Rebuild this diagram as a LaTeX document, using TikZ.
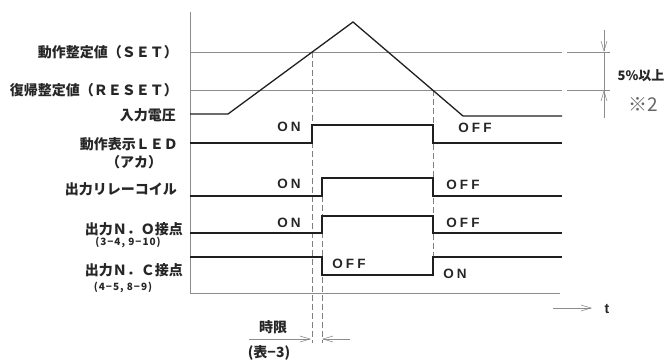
\documentclass[tikz,border=0pt]{standalone}
\usepackage{fontspec}
\usetikzlibrary{arrows.meta}
\newfontfamily\jp{Noto Sans CJK JP}
\newfontfamily\jpsp[LetterSpace=10]{Noto Sans CJK JP}
\newfontfamily\lat[LetterSpace=24]{Liberation Sans}
\newfontfamily\latn{Liberation Sans}
\begin{document}
\begin{tikzpicture}[x=1pt,y=-1pt,
  grid/.style={draw=black!45, line width=0.7pt},
  sig/.style={draw=black!88, line width=1.5pt},
  vdash/.style={draw=black!50, line width=0.7pt, dash pattern=on 6pt off 3pt},
  lbl/.style={font=\jp\bfseries\fontsize{14}{15}\selectfont, text=black!85, anchor=east, inner sep=0pt},
  sublbl/.style={font=\jpsp\bfseries\fontsize{10}{10}\selectfont, text=black!85, inner sep=0pt},
  st/.style={font=\lat\bfseries\fontsize{13.5}{13.5}\selectfont, text=black!85, inner sep=0pt},
  barb/.style={-{Straight Barb[length=10pt,width=6pt]}, draw=black!45, line width=0.6pt}]
\useasboundingbox (0,0) rectangle (667,362);
% axes
\coordinate (ax0) at (190,12);
\coordinate (ax1) at (190,293);
\coordinate (ax2) at (560,293);
\draw[grid] (ax0) -- (ax1) -- (ax2);
% SET / RESET levels
\coordinate (set0) at (190,52);  \coordinate (set1) at (562,52);
\coordinate (set2) at (567,52);  \coordinate (set3) at (610,52);
\coordinate (rst0) at (190,90);  \coordinate (rst1) at (562,90);
\coordinate (rst2) at (567,90);  \coordinate (rst3) at (610,90);
\draw[grid] (set0) -- (set1) (set2) -- (set3);
\draw[grid] (rst0) -- (rst1) (rst2) -- (rst3);
% dimension 5%
\coordinate (d0) at (604,30); \coordinate (d1) at (604,52);
\coordinate (d2) at (604,90); \coordinate (d3) at (604,118);
\draw[barb] (d0) -- (d1);
\draw[grid,line width=0.6pt] (d1) -- (d2);
\draw[barb] (d3) -- (d2);
\node[font=\jp\bfseries\fontsize{13}{13}\selectfont, text=black!85, inner sep=0pt] (pct) at (641,76) {5\%以上};
\node[font=\jp\fontsize{19}{19}\selectfont, text=black!60, inner sep=0pt] (note) at (643,104) {※2};
% dashed verticals
\draw[vdash] (312,52) -- (312,343);
\draw[vdash] (322,196) -- (322,343);
\draw[vdash] (433,90) -- (433,257);
% input voltage
\draw[sig, line width=1.3pt] (190,114) -- (228,114) -- (353,22) -- (463,116) -- (562,116);
% LED
\draw[sig] (190,143) -- (312,143) -- (312,125) -- (433,125) -- (433,143) -- (562,143);
% relay coil
\draw[sig] (190,196) -- (322,196) -- (322,178) -- (433,178) -- (433,196) -- (562,196);
% N.O
\draw[sig] (190,233) -- (322,233) -- (322,216) -- (433,216) -- (433,233) -- (562,233);
% N.C
\draw[sig] (190,257) -- (322,257) -- (322,275) -- (433,275) -- (433,257) -- (562,257);
% state labels
\node[st] (on1) at (289,127) {ON};
\node[st] (off1) at (475,128) {OFF};
\node[st] (on2) at (289,184) {ON};
\node[st] (off2) at (463,185) {OFF};
\node[st] (on3) at (289,223) {ON};
\node[st] (off3) at (463,223) {OFF};
\node[st] (off4) at (349,264) {OFF};
\node[st] (on4) at (455,274) {ON};
% left labels
\node[lbl] (lset) at (178,52) {動作整定値（ＳＥＴ）};
\node[lbl] (lrst) at (178,90) {復帰整定値（ＲＥＳＥＴ）};
\node[lbl] (lin) at (176,115) {入力電圧};
\node[lbl] (lled) at (178,144) {動作表示ＬＥＤ};
\node[lbl, anchor=center] (laka) at (134,162) {（アカ）};
\node[lbl] (lrel) at (177,189) {出力リレーコイル};
\node[lbl] (lno) at (183,229) {出力Ｎ．Ｏ接点};
\node[sublbl] (lno2) at (128,242) {(3−4, 9−10)};
\node[lbl] (lnc) at (183,270) {出力Ｎ．Ｃ接点};
\node[sublbl] (lnc2) at (123,287) {(4−5, 8−9)};
% time limit
\coordinate (ta0) at (249,339); \coordinate (ta1) at (311,339);
\coordinate (tb0) at (350,339); \coordinate (tb1) at (322,339);
\draw[barb] (ta0) -- (ta1);
\draw[barb] (tb0) -- (tb1);
\node[font=\jp\bfseries\fontsize{14}{14}\selectfont, text=black!85, inner sep=0pt] (jigen) at (273,327) {時限};
\node[font=\jp\bfseries\fontsize{14}{14}\selectfont, text=black!85, inner sep=0pt] (hyo) at (269,353) {(表−3)};
% t arrow
\coordinate (t0) at (553,308); \coordinate (t1) at (592,308);
\draw[barb] (t0) -- (t1);
\node[font=\latn\bfseries\fontsize{14}{14}\selectfont, text=black!85, inner sep=0pt] (tlab) at (607,309) {t};
\end{tikzpicture}
\end{document}
